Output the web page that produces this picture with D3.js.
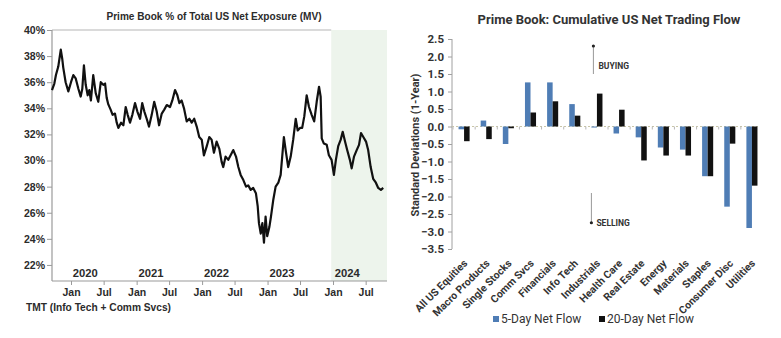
<!DOCTYPE html>
<html>
<head>
<meta charset="utf-8">
<script src="https://cdn.jsdelivr.net/npm/d3@7/dist/d3.min.js"></script>
<style>
  html, body { margin: 0; padding: 0; background: #fff; }
  svg { display: block; }
  .narrow { font-family: "Liberation Sans Narrow", "Arial Narrow", "Liberation Sans", Arial, sans-serif; font-weight: 700; fill: #2b2b2b; }
  .sans { font-family: Roboto, "Open Sans", "Noto Sans", sans-serif; fill: #333; }
</style>
</head>
<body>
<svg id="chart" width="781" height="338"></svg>
<script>
// ---- Left panel: Prime Book % of total US net exposure (TMT) ----
const exposureDates = [
  "2019-09-17","2019-09-30","2019-10-09","2019-10-22","2019-11-05","2019-11-13","2019-11-19","2019-12-02","2019-12-17",
  "2020-01-01","2020-01-14","2020-01-27","2020-02-11","2020-02-24","2020-03-04","2020-03-13","2020-03-23","2020-04-03",
  "2020-04-12","2020-04-21","2020-05-04","2020-05-18","2020-06-01","2020-06-15","2020-06-29","2020-07-09","2020-07-18",
  "2020-07-27","2020-08-09","2020-08-20","2020-09-02","2020-09-12","2020-09-21","2020-10-06","2020-10-19","2020-11-01",
  "2020-11-12","2020-11-25","2020-12-08","2020-12-23","2021-01-05","2021-01-20","2021-02-01","2021-02-13","2021-02-26",
  "2021-03-11","2021-03-26","2021-04-09","2021-04-23","2021-05-06","2021-05-21","2021-06-04","2021-06-18","2021-07-06",
  "2021-07-19","2021-08-03","2021-08-16","2021-08-27","2021-09-09","2021-09-22","2021-10-07","2021-10-22","2021-11-04",
  "2021-11-18","2021-12-02","2021-12-16","2021-12-30","2022-01-11","2022-01-27","2022-02-10","2022-02-23","2022-03-08",
  "2022-03-23","2022-04-07","2022-04-20","2022-04-29","2022-05-12","2022-05-27","2022-06-09","2022-06-24","2022-07-09",
  "2022-07-22","2022-08-04","2022-08-19","2022-09-03","2022-09-15","2022-09-29","2022-10-13","2022-10-28","2022-11-07",
  "2022-11-14","2022-11-24","2022-12-03","2022-12-12","2022-12-21","2022-12-30","2023-01-11","2023-01-20","2023-02-02",
  "2023-02-15","2023-03-02","2023-03-15","2023-04-02","2023-04-14","2023-04-26","2023-05-10","2023-05-24","2023-06-07",
  "2023-06-18","2023-07-01","2023-07-13","2023-07-25","2023-08-07","2023-08-20","2023-09-04","2023-09-18","2023-10-02",
  "2023-10-15","2023-10-24","2023-10-30","2023-11-11","2023-11-27","2023-12-09","2023-12-24","2024-01-06","2024-01-17",
  "2024-01-30","2024-02-13","2024-02-24","2024-03-08","2024-03-20","2024-04-04","2024-04-14","2024-04-27","2024-05-12",
  "2024-05-25","2024-06-05","2024-06-18","2024-07-03","2024-07-15","2024-07-29","2024-08-12","2024-08-27","2024-09-09",
  "2024-09-24","2024-10-07"
];
const exposureValues = [
  35.4, 35.9, 36.55, 37.2, 38.5, 37.8, 37.1, 36.0, 35.3,
  36.0, 36.55, 36.3, 35.5, 34.9, 35.5, 37.3, 35.8, 35.0,
  35.4, 34.6, 36.55, 35.15, 34.5, 36.0, 35.8, 35.9, 34.8,
  34.3, 33.9, 33.5, 33.6, 32.9, 32.5, 32.9, 32.7, 34.1,
  33.5, 32.9, 33.5, 34.4, 33.75, 33.2, 34.4, 33.75, 33.2,
  32.6, 33.5, 34.5, 33.75, 32.7, 33.6, 33.9, 34.25, 34.1,
  34.6, 35.4, 35.0, 34.4, 34.6, 34.0, 33.0, 33.2, 32.9,
  33.2, 32.6, 31.8, 31.6, 30.4, 31.1, 31.8, 31.6, 30.6,
  31.45, 30.9, 29.9, 29.5, 30.3, 30.05, 30.4, 30.8, 30.3,
  29.5, 28.9, 28.5, 28.0, 28.1, 27.75, 27.9, 27.5, 26.5,
  25.2, 24.4, 25.2, 23.7, 25.7, 24.2, 24.9, 25.7, 27.0,
  28.0, 28.3, 28.9, 31.8, 30.6, 29.5, 30.3, 31.6, 33.2,
  32.3, 32.5, 32.5, 33.4, 35.0, 34.1, 33.5, 33.0, 34.5,
  35.65, 34.9, 31.7, 31.3, 31.2, 30.4, 30.05, 28.9, 30.05,
  31.1, 31.6, 32.2, 31.45, 30.8, 30.05, 29.4, 30.3, 30.8,
  31.2, 32.1, 31.8, 31.45, 30.8, 29.5, 28.6, 28.3, 27.9,
  27.75, 27.9
];
const exposureTicks = [22, 24, 26, 28, 30, 32, 34, 36, 38, 40];
const yearLabels = ["2020", "2021", "2022", "2023", "2024"];
const highlightStart = "2023-12-22";
const leftTitle = "Prime Book % of Total US Net Exposure (MV)";
const leftFootnote = "TMT (Info Tech + Comm Svcs)";

// ---- Right panel: cumulative US net trading flow by sector ----
const sectors = ["All US Equities", "Macro Products", "Single Stocks", "Comm Svcs", "Financials", "Info Tech",
  "Industrials", "Health Care", "Real Estate", "Energy", "Materials", "Staples", "Consumer Disc", "Utilities"];
const flow5d = [-0.08, 0.17, -0.5, 1.26, 1.26, 0.64, -0.03, -0.2, -0.31, -0.6, -0.66, -1.42, -2.29, -2.9];
const flow20d = [-0.42, -0.36, -0.05, 0.4, 0.72, 0.31, 0.94, 0.48, -0.97, -0.83, -0.83, -1.42, -0.49, -1.69];
const seriesNames = ["5-Day Net Flow", "20-Day Net Flow"];
const flowTicks = [2.5, 2.0, 1.5, 1.0, 0.5, 0.0, -0.5, -1.0, -1.5, -2.0, -2.5, -3.0, -3.5];
const rightTitle = "Prime Book: Cumulative US Net Trading Flow";
const rightAxisTitle = "Standard Deviations (1-Year)";

const svg = d3.select("#chart");
const parse = d3.timeParse("%Y-%m-%d");

// ================= Left panel =================
const L = { left: 52, right: 387, top: 30, bottom: 281 };
const xL = d3.scaleTime()
  .domain([parse("2019-09-17"), parse("2024-10-28")])
  .range([L.left, L.right]);
const yL = d3.scaleLinear().domain([20.77, 40]).range([L.bottom, L.top]);

const left = svg.append("g");

// shaded 2024 window
left.append("rect")
  .attr("x", xL(parse(highlightStart)))
  .attr("y", L.top)
  .attr("width", L.right - xL(parse(highlightStart)))
  .attr("height", L.bottom - L.top)
  .attr("fill", "#edf4ec");

// frame: top line
left.append("line")
  .attr("x1", L.left).attr("x2", xL(parse(highlightStart)))
  .attr("y1", L.top).attr("y2", L.top)
  .attr("stroke", "#b5b5b5").attr("stroke-width", 1);

// y axis
const yAxisL = d3.axisLeft(yL).tickValues(exposureTicks).tickSize(5).tickPadding(2)
  .tickFormat(d => d + "%");
const gyL = left.append("g").attr("transform", `translate(${L.left},0)`).call(yAxisL);
gyL.select(".domain").attr("stroke", "#9a9a9a").attr("stroke-width", 1.2)
  .attr("d", `M0,${L.top}V${L.bottom}`);
gyL.selectAll(".tick line").attr("stroke", "#9a9a9a");
gyL.selectAll("text").attr("class", "narrow").attr("font-size", 10.5).attr("fill", "#2b2b2b");

// x axis (Jan / Jul)
const xAxisL = d3.axisBottom(xL).ticks(d3.timeMonth.every(6)).tickSize(4).tickPadding(4)
  .tickFormat(d3.timeFormat("%b"));
const gxL = left.append("g").attr("transform", `translate(0,${L.bottom})`).call(xAxisL);
gxL.select(".domain").attr("stroke", "#9a9a9a").attr("stroke-width", 1.2)
  .attr("d", `M${L.left},0H${L.right}`);
gxL.selectAll(".tick line").attr("stroke", "#9a9a9a");
gxL.selectAll("text").attr("class", "narrow").attr("font-size", 10.5).attr("fill", "#2b2b2b");

// year labels inside the plot
left.selectAll(".yr").data(yearLabels).join("text")
  .attr("class", "narrow")
  .attr("x", d => xL(d3.timeDay.offset(parse(d + "-01-01"), 80)))
  .attr("y", 277)
  .attr("text-anchor", "middle")
  .attr("font-size", 11.5)
  .attr("textLength", 25).attr("lengthAdjust", "spacingAndGlyphs")
  .text(d => d);

// exposure line
const exposure = exposureDates.map((d, i) => ({ date: parse(d), value: exposureValues[i] }));
left.append("path")
  .datum(exposure)
  .attr("fill", "none")
  .attr("stroke", "#111")
  .attr("stroke-width", 2.2)
  .attr("stroke-linejoin", "round")
  .attr("d", d3.line().x(d => xL(d.date)).y(d => yL(d.value)));

// titles (condensed to the narrow face's width)
left.append("text").attr("class", "narrow")
  .attr("x", 214).attr("y", 20).attr("text-anchor", "middle")
  .attr("font-size", 11.5)
  .attr("textLength", 215).attr("lengthAdjust", "spacingAndGlyphs")
  .text(leftTitle);
left.append("text").attr("class", "narrow")
  .attr("x", 26).attr("y", 311).attr("font-size", 11.5)
  .attr("textLength", 145).attr("lengthAdjust", "spacingAndGlyphs")
  .text(leftFootnote);

// ================= Right panel =================
const R = { left: 452, top: 39, bottom: 249 };
const x0 = d3.scaleBand().domain(sectors).range([453, 763]).paddingInner(0.5).paddingOuter(0.25);
const x1 = d3.scaleBand().domain(seriesNames).range([0, x0.bandwidth()]);
const yR = d3.scaleLinear().domain([-3.5, 2.5]).range([R.bottom, R.top]);
const colors = d3.scaleOrdinal().domain(seriesNames).range(["#4f7db5", "#111111"]);

const right = svg.append("g");

// y axis
const yAxisR = d3.axisLeft(yR).tickValues(flowTicks).tickSize(4).tickPadding(4)
  .tickFormat(d3.format(".1f"));
const gyR = right.append("g").attr("transform", `translate(${R.left},0)`).call(yAxisR);
gyR.select(".domain").attr("stroke", "#a0a0a0").attr("d", `M0,${R.top}V${R.bottom}`);
gyR.selectAll(".tick line").attr("stroke", "#a0a0a0");
gyR.selectAll("text").attr("class", "sans").attr("font-size", 11.5).attr("font-weight", 700).attr("fill", "#333");

// zero baseline with category ticks
const zeroY = yR(0);
right.append("line")
  .attr("x1", R.left).attr("x2", 760)
  .attr("y1", zeroY).attr("y2", zeroY)
  .attr("stroke", "#c9c6a8").attr("stroke-width", 1).attr("stroke-dasharray", "2,2");
right.selectAll(".ztick").data(sectors).join("line")
  .attr("x1", d => x0(d) - x0.step() * 0.25)
  .attr("x2", d => x0(d) - x0.step() * 0.25)
  .attr("y1", zeroY).attr("y2", zeroY + 3)
  .attr("stroke", "#b8b8b8");

// bars
const rows = sectors.map((s, i) => ({ sector: s, vals: [flow5d[i], flow20d[i]] }));
right.selectAll(".grp").data(rows).join("g")
  .attr("transform", d => `translate(${x0(d.sector)},0)`)
  .selectAll("rect")
  .data(d => d.vals.map((v, j) => ({ key: seriesNames[j], value: v })))
  .join("rect")
  .attr("x", d => x1(d.key))
  .attr("width", x1.bandwidth())
  .attr("y", d => yR(Math.max(0, d.value)))
  .attr("height", d => Math.abs(yR(d.value) - yR(0)))
  .attr("fill", d => colors(d.key));

// category labels
right.selectAll(".cat").data(sectors).join("text")
  .attr("class", "sans")
  .attr("font-size", 10.5).attr("font-weight", 700).attr("fill", "#333")
  .attr("text-anchor", "end")
  .attr("transform", d => `translate(${x0(d) + x0.bandwidth() / 2 + 4},${264}) rotate(-45)`)
  .text(d => d);

// axis title
right.append("text").attr("class", "sans")
  .attr("font-size", 11).attr("font-weight", 700).attr("fill", "#333")
  .attr("text-anchor", "middle")
  .attr("transform", `translate(419,145) rotate(-90)`)
  .text(rightAxisTitle);

// chart title
right.append("text").attr("class", "sans")
  .attr("x", 609).attr("y", 24).attr("text-anchor", "middle")
  .attr("font-size", 13).attr("font-weight", 700).attr("fill", "#333")
  .text(rightTitle);

// buying / selling markers
const markX = x0("Industrials") + 2;
const ann = right.append("g");
ann.append("line").attr("x1", markX).attr("x2", markX).attr("y1", yR(1.5)).attr("y2", yR(2.3))
  .attr("stroke", "#999").attr("stroke-width", 1);
ann.append("circle").attr("cx", markX).attr("cy", yR(2.3)).attr("r", 1.6).attr("fill", "#222");
ann.append("text").attr("class", "sans").attr("x", markX + 5).attr("y", yR(1.63))
  .attr("font-size", 8.5).attr("font-weight", 700).attr("fill", "#333").text("BUYING");
ann.append("line").attr("x1", markX - 2).attr("x2", markX - 2).attr("y1", yR(-1.9)).attr("y2", yR(-2.75))
  .attr("stroke", "#999").attr("stroke-width", 1);
ann.append("circle").attr("cx", markX - 2).attr("cy", yR(-2.75)).attr("r", 1.6).attr("fill", "#222");
ann.append("text").attr("class", "sans").attr("x", markX + 3).attr("y", yR(-2.75) + 3)
  .attr("font-size", 8.5).attr("font-weight", 700).attr("fill", "#333").text("SELLING");

// legend
const legend = right.append("g");
const legendX = [493, 599];
seriesNames.forEach((name, i) => {
  legend.append("rect").attr("x", legendX[i]).attr("y", 316).attr("width", 6).attr("height", 6)
    .attr("fill", colors(name));
  legend.append("text").attr("class", "sans").attr("x", legendX[i] + 8).attr("y", 323)
    .attr("font-size", 12).attr("fill", "#333").text(name);
});
</script>
</body>
</html>
